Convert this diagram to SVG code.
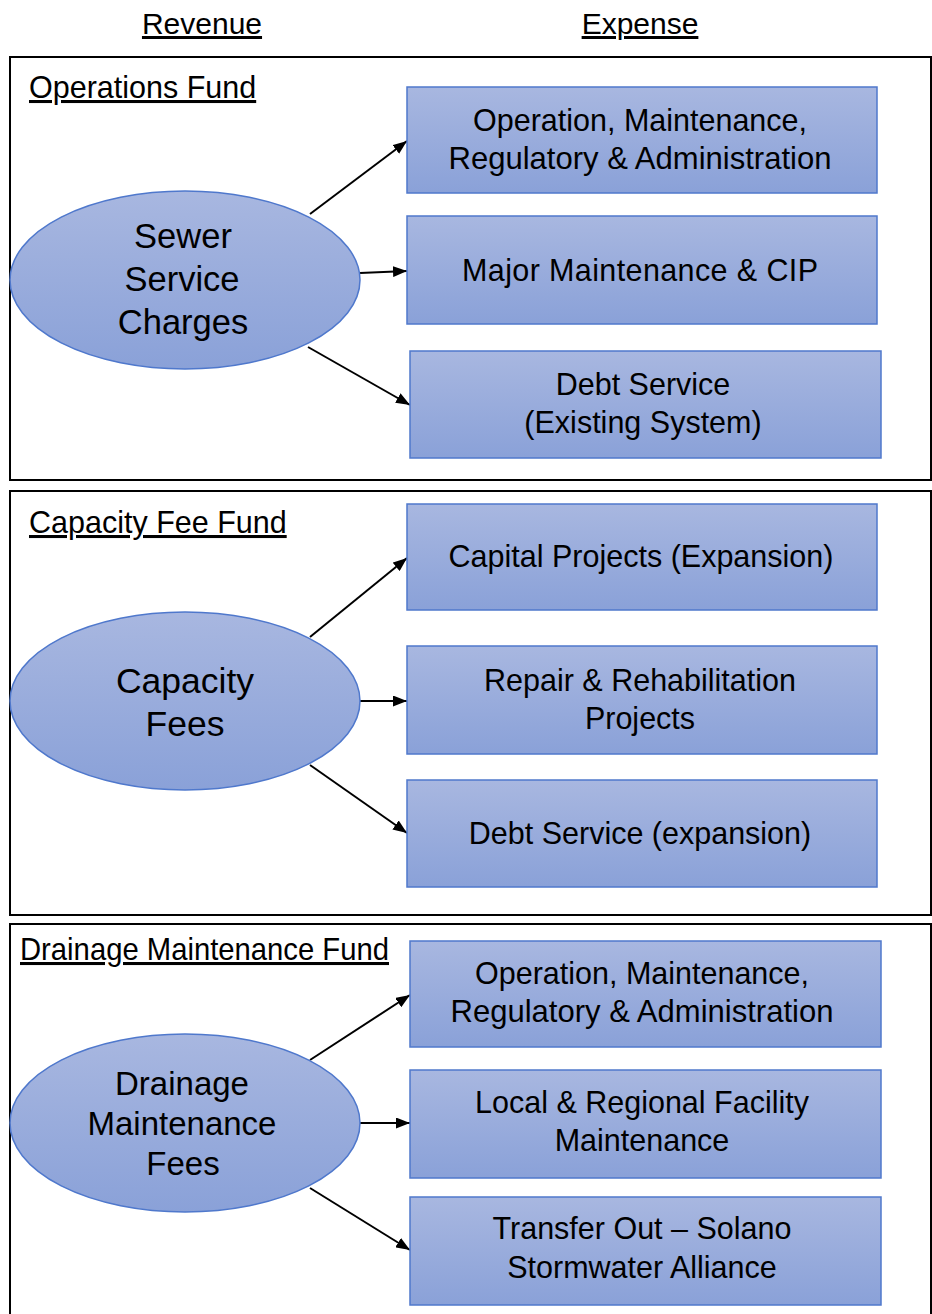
<svg xmlns="http://www.w3.org/2000/svg" width="932" height="1314" viewBox="0 0 932 1314">
<defs>
<linearGradient id="g" x1="0" y1="0" x2="0" y2="1">
<stop offset="0" stop-color="#a8b7e0"/>
<stop offset="1" stop-color="#8aa1d8"/>
</linearGradient>
<marker id="ah" viewBox="0 0 14 11" refX="14" refY="5.5" markerWidth="14" markerHeight="11" markerUnits="userSpaceOnUse" orient="auto">
<path d="M0,0 L14,5.5 L0,11 Z" fill="#000"/>
</marker>
<style>
.panel{fill:none;stroke:#000;stroke-width:2}
.box{fill:url(#g);stroke:#4f78cc;stroke-width:1.5}
.ell{fill:url(#g);stroke:#4f78cc;stroke-width:1.5}
text{font-family:"Liberation Sans",Arial,sans-serif;fill:#000}
.hd{font-size:30px;text-anchor:middle;text-decoration:underline}
.fund{font-size:30.5px;text-decoration:underline}
.bt{font-size:30.5px;text-anchor:middle}
.et{font-size:34.5px;text-anchor:middle}
.conn line{stroke:#000;stroke-width:2;marker-end:url(#ah)}
</style>
</defs>
<rect width="932" height="1314" fill="#fff"/>
<text class="hd" x="202" y="34">Revenue</text>
<text class="hd" x="640" y="34">Expense</text>

<rect class="panel" x="10" y="57" width="921" height="423"/>
<rect class="panel" x="10" y="491" width="921" height="424"/>
<rect class="panel" x="10" y="924" width="921" height="420"/>

<text class="fund" x="29" y="98">Operations Fund</text>
<text class="fund" x="29" y="533">Capacity Fee Fund</text>
<text class="fund" x="20" y="960" textLength="369" lengthAdjust="spacingAndGlyphs">Drainage Maintenance Fund</text>

<g class="conn" id="connectors">
<line x1="310" y1="214" x2="407" y2="141"/>
<line x1="360" y1="273" x2="407" y2="271"/>
<line x1="308" y1="347" x2="410" y2="405"/>
<line x1="310" y1="637" x2="407" y2="558"/>
<line x1="360" y1="701" x2="407" y2="701"/>
<line x1="310" y1="765" x2="407" y2="833"/>
<line x1="310" y1="1060" x2="410" y2="995"/>
<line x1="360" y1="1123" x2="410" y2="1123"/>
<line x1="310" y1="1188" x2="410" y2="1250"/>
</g>

<g id="sewer">
<ellipse class="ell" cx="185" cy="280" rx="175" ry="89"/>
<text class="et" x="183" y="248">Sewer</text>
<text class="et" x="182" y="291">Service</text>
<text class="et" x="183" y="334">Charges</text>
</g>
<g id="capacity">
<ellipse class="ell" cx="185" cy="701" rx="175" ry="89"/>
<text class="et" x="185" y="693" style="font-size:35.5px">Capacity</text>
<text class="et" x="185" y="736" style="font-size:35.5px">Fees</text>
</g>
<g id="drainage">
<ellipse class="ell" cx="185" cy="1123" rx="175" ry="89"/>
<text class="et" x="182" y="1095" style="font-size:33px">Drainage</text>
<text class="et" x="182" y="1135" style="font-size:33px">Maintenance</text>
<text class="et" x="183" y="1175" style="font-size:33px">Fees</text>
</g>

<g id="op1">
<rect class="box" x="407" y="87" width="470" height="106"/>
<text class="bt" x="640" y="131">Operation, Maintenance,</text>
<text class="bt" x="640" y="169" textLength="383" lengthAdjust="spacingAndGlyphs">Regulatory &amp; Administration</text>
</g>
<g id="major">
<rect class="box" x="407" y="216" width="470" height="108"/>
<text class="bt" x="640" y="281" textLength="356" lengthAdjust="spacing">Major Maintenance &amp; CIP</text>
</g>
<g id="debt1">
<rect class="box" x="410" y="351" width="471" height="107"/>
<text class="bt" x="643" y="395">Debt Service</text>
<text class="bt" x="643" y="433">(Existing System)</text>
</g>
<g id="capital">
<rect class="box" x="407" y="504" width="470" height="106"/>
<text class="bt" x="641" y="567">Capital Projects (Expansion)</text>
</g>
<g id="repair">
<rect class="box" x="407" y="646" width="470" height="108"/>
<text class="bt" x="640" y="691">Repair &amp; Rehabilitation</text>
<text class="bt" x="640" y="729">Projects</text>
</g>
<g id="debt2">
<rect class="box" x="407" y="780" width="470" height="107"/>
<text class="bt" x="640" y="844">Debt Service (expansion)</text>
</g>
<g id="op3">
<rect class="box" x="410" y="941" width="471" height="106"/>
<text class="bt" x="642" y="984">Operation, Maintenance,</text>
<text class="bt" x="642" y="1022" textLength="383" lengthAdjust="spacingAndGlyphs">Regulatory &amp; Administration</text>
</g>
<g id="local">
<rect class="box" x="410" y="1070" width="471" height="108"/>
<text class="bt" x="642" y="1113">Local &amp; Regional Facility</text>
<text class="bt" x="642" y="1151">Maintenance</text>
</g>
<g id="transfer">
<rect class="box" x="410" y="1197" width="471" height="108"/>
<text class="bt" x="642" y="1239">Transfer Out – Solano</text>
<text class="bt" x="642" y="1278">Stormwater Alliance</text>
</g>
</svg>
